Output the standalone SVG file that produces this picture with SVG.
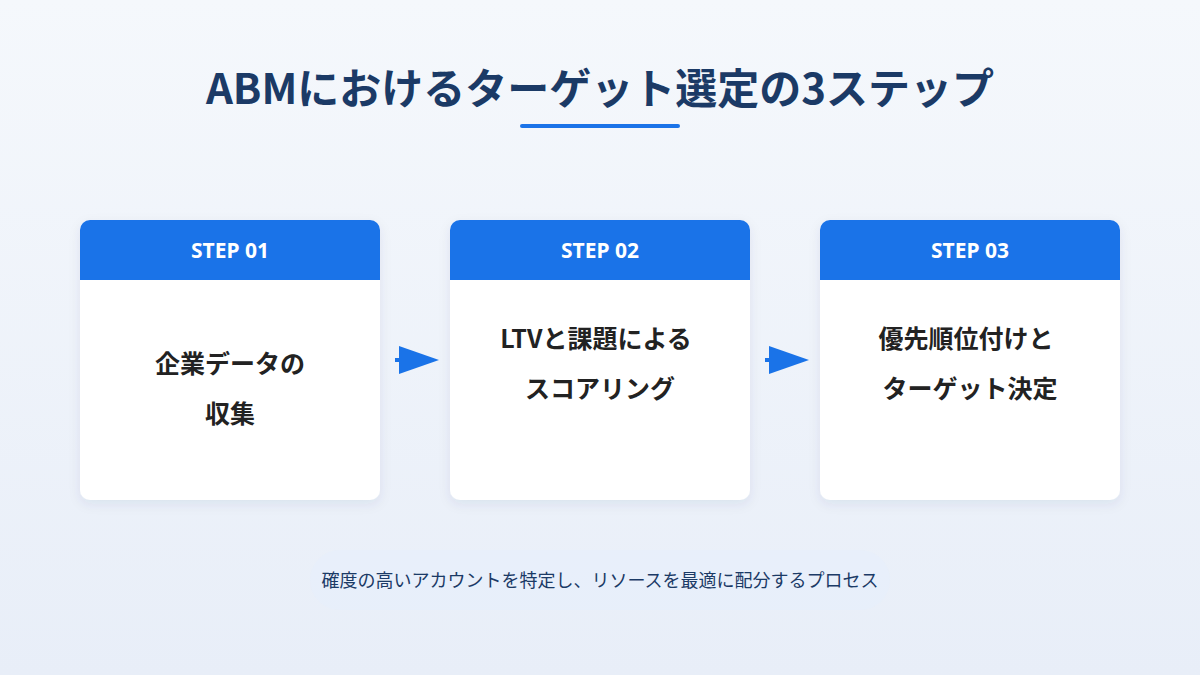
<svg xmlns="http://www.w3.org/2000/svg" width="1200" height="675" viewBox="0 0 1200 675">
<defs>
<linearGradient id="bg" x1="0" y1="0" x2="0" y2="1"><stop offset="0" stop-color="#f5f8fc"/><stop offset="1" stop-color="#e8eef8"/></linearGradient>
<filter id="sh" x="-10%" y="-10%" width="120%" height="130%"><feDropShadow dx="0" dy="4" stdDeviation="6" flood-color="#1a3a6b" flood-opacity="0.08"/></filter>
<marker id="ah" markerWidth="40" markerHeight="28" refX="0" refY="14" orient="auto" markerUnits="userSpaceOnUse"><path d="M0,0 L40,14 L0,28 Z" fill="#1a73e8"/></marker>
</defs>
<style>
.card{fill:#fff;filter:url(#sh)}
.hd{fill:#1a73e8}
.st{font-family:"Noto Sans","Noto Sans CJK JP",sans-serif;font-weight:700;font-size:21px;fill:#fff;text-anchor:middle}
.bd{font-family:"Noto Sans CJK JP",sans-serif;font-weight:700;font-size:25px;fill:#222;text-anchor:middle}
</style>
<rect width="1200" height="675" fill="url(#bg)"/>
<text x="600" y="104" text-anchor="middle" font-family="'Noto Sans CJK JP',sans-serif" font-weight="700" font-size="42" fill="#1b3a66">ABMにおけるターゲット選定の3ステップ</text>
<rect x="520" y="124" width="160" height="4" rx="2" fill="#1a73e8"/>
<g id="step1">
<rect class="card" x="80" y="220" width="300" height="280" rx="10"/>
<path class="hd" d="M80,230 a10,10 0 0 1 10,-10 h280 a10,10 0 0 1 10,10 v50 h-300 z"/>
<text class="st" x="230" y="258">STEP 01</text>
<text class="bd" x="230" y="373">企業データの</text>
<text class="bd" x="230" y="423">収集</text>
</g>
<g id="step2">
<rect class="card" x="450" y="220" width="300" height="280" rx="10"/>
<path class="hd" d="M450,230 a10,10 0 0 1 10,-10 h280 a10,10 0 0 1 10,10 v50 h-300 z"/>
<text class="st" x="600" y="258">STEP 02</text>
<text class="bd" x="596" y="348">LTVと課題による</text>
<text class="bd" x="600" y="398">スコアリング</text>
</g>
<g id="step3">
<rect class="card" x="820" y="220" width="300" height="280" rx="10"/>
<path class="hd" d="M820,230 a10,10 0 0 1 10,-10 h280 a10,10 0 0 1 10,10 v50 h-300 z"/>
<text class="st" x="970" y="258">STEP 03</text>
<text class="bd" x="966" y="348">優先順位付けと</text>
<text class="bd" x="970" y="398">ターゲット決定</text>
</g>
<g id="connectors" stroke="#1a73e8" stroke-width="4">
<line x1="395" y1="360" x2="399" y2="360" marker-end="url(#ah)"/>
<line x1="765" y1="360" x2="769" y2="360" marker-end="url(#ah)"/>
</g>
<rect x="310" y="550" width="580" height="60" rx="30" fill="#e6eefb" opacity="0.6"/>
<text x="600" y="587" text-anchor="middle" font-family="'Noto Sans CJK JP',sans-serif" font-size="18" fill="#1b3a66">確度の高いアカウントを特定し、リソースを最適に配分するプロセス</text>
</svg>
